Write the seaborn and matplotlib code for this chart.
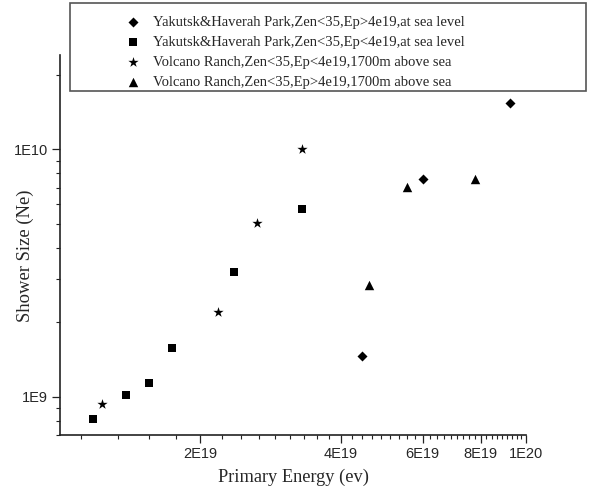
import numpy as np
import pandas as pd
import matplotlib
matplotlib.use("Agg")
import matplotlib.pyplot as plt
import seaborn as sns
from matplotlib.ticker import FixedLocator, FixedFormatter, NullFormatter
from matplotlib.patches import Rectangle

# ---- data ----
labels = [
    "Yakutsk&Haverah Park,Zen<35,Ep>4e19,at sea level",
    "Yakutsk&Haverah Park,Zen<35,Ep<4e19,at sea level",
    "Volcano Ranch,Zen<35,Ep<4e19,1700m above sea",
    "Volcano Ranch,Zen<35,Ep>4e19,1700m above sea",
]
diamond_x = [4.44e19, 6.0e19, 9.24e19]
diamond_y = [1.46e9, 7.58e9, 1.54e10]
square_x = [1.178e19, 1.387e19, 1.554e19, 1.741e19, 2.368e19, 3.30e19]
square_y = [8.1e8, 1.02e9, 1.14e9, 1.58e9, 3.18e9, 5.73e9]
star_x = [1.231e19, 2.187e19, 2.65e19, 3.31e19]
star_y = [9.3e8, 2.21e9, 5.03e9, 1.0e10]
tri_x = [4.6e19, 5.55e19, 7.77e19]
tri_y = [2.84e9, 7.03e9, 7.58e9]

x_major = [2e19, 4e19, 6e19, 8e19, 1e20]
x_major_labels = ["2E19", "4E19", "6E19", "8E19", "1E20"]
y_major = [1e9, 1e10]
y_major_labels = ["1E9", "1E10"]

sns.set_style("ticks")
plt.rcParams["font.family"] = ["Liberation Sans", "DejaVu Sans"]

fig = plt.figure(figsize=(6, 4.96), dpi=100)
ax = fig.add_axes([60 / 600, 1 - 435 / 496, 466 / 600, 380 / 496])

groups = [
    (diamond_x, diamond_y, "D", 26),
    (square_x, square_y, "s", 26),
    (star_x, star_y, "*", 60),
    (tri_x, tri_y, "^", 46),
]
for (xs, ys, m, s), lab in zip(groups, labels):
    df = pd.DataFrame({"x": xs, "y": ys})
    sns.scatterplot(data=df, x="x", y="y", marker=m, s=s, color="black",
                    linewidth=0, ax=ax, label=lab, legend=False)

ax.set_xscale("log")
ax.set_yscale("log")
ax.set_xlim(1e19, 1e20)
ax.set_ylim(7e8, 2.41e10)

ax.xaxis.set_major_locator(FixedLocator(x_major))
ax.xaxis.set_major_formatter(FixedFormatter(x_major_labels))
minor_x = [n * 2e19 / 9 for n in range(5, 45) if n % 9 != 0]
ax.xaxis.set_minor_locator(FixedLocator(minor_x))
ax.xaxis.set_minor_formatter(NullFormatter())

ax.yaxis.set_major_locator(FixedLocator(y_major))
ax.yaxis.set_major_formatter(FixedFormatter(y_major_labels))
minor_y = [k * 1e8 for k in (7, 8, 9)] + [k * 1e9 for k in range(2, 10)] + [2e10]
ax.yaxis.set_minor_locator(FixedLocator(minor_y))
ax.yaxis.set_minor_formatter(NullFormatter())

for sp in ["top", "right"]:
    ax.spines[sp].set_visible(False)
for sp in ["left", "bottom"]:
    ax.spines[sp].set_linewidth(1.2)
    ax.spines[sp].set_color("#222222")

ax.tick_params(which="major", direction="out", length=5.5, width=0.9,
               labelsize=10.5, pad=3, color="#222222")
ax.tick_params(which="minor", direction="out", length=2.8, width=0.8,
               color="#222222")

ax.set_xlabel("Primary Energy (ev)", fontsize=13.2, family="Liberation Serif")
ax.set_ylabel("Shower Size (Ne)", fontsize=13.4, family="Liberation Serif")
ax.xaxis.set_label_coords(0.5, -(469 - 435) / 380)
ax.yaxis.set_label_coords((34 - 60) / 466, (435 - 256) / 380)

handles, hl = ax.get_legend_handles_labels()
fig.legend(handles, hl, loc="upper left",
           bbox_to_anchor=(125.7 / 600, 1 - 15.8 / 496),
           frameon=False, borderpad=0, borderaxespad=0,
           handlelength=1.0, handletextpad=0.85, labelspacing=0.47,
           prop={"family": "Liberation Serif", "size": 10.5})

fig.patches.append(Rectangle((70 / 600, 1 - 91 / 496), 516 / 600, 88 / 496,
                             transform=fig.transFigure, fill=False,
                             edgecolor="#555555", linewidth=1.2))

fig.savefig("out.png", dpi=100)
